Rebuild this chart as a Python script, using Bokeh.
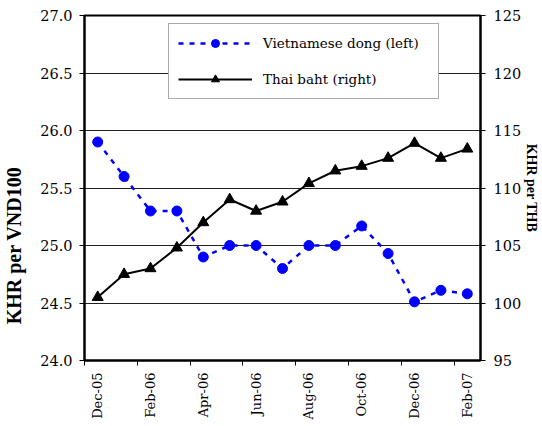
import math
from bokeh.plotting import figure
from bokeh.models import (Range1d, LinearAxis, FixedTicker, Legend,
                          LegendItem, NumeralTickFormatter)
from bokeh.embed import file_html
from bokeh.resources import INLINE

# ---- data ----
months = ["Dec-05", "Jan-06", "Feb-06", "Mar-06", "Apr-06", "May-06", "Jun-06",
          "Jul-06", "Aug-06", "Sep-06", "Oct-06", "Nov-06", "Dec-06", "Jan-07", "Feb-07"]
dong = [25.9, 25.6, 25.3, 25.3, 24.9, 25.0, 25.0, 24.8, 25.0, 25.0, 25.17, 24.93, 24.51, 24.61, 24.58]
baht = [100.5, 102.5, 103.0, 104.8, 107.0, 109.0, 108.0, 108.8, 110.4, 111.5, 111.9, 112.6, 113.9, 112.6, 113.4]
left_ticks = [24.0, 24.5, 25.0, 25.5, 26.0, 26.5, 27.0]
right_ticks = [95, 100, 105, 110, 115, 120, 125]

BOLD_FONT = "'Liberation Serif', 'Times New Roman', serif"
REG_FONT = "DejaVu Serif"

x = [i + 0.5 for i in range(len(months))]
label_pos = x[::2]
label_txt = months[::2]
boundaries = list(range(0, len(months), 2))

p = figure(width=542, height=426, output_backend="svg", toolbar_location=None,
           x_range=Range1d(0, len(months)), y_range=Range1d(left_ticks[0], left_ticks[-1]),
           min_border_left=84, min_border_right=55, min_border_top=15, min_border_bottom=66)
p.extra_y_ranges = {"thb": Range1d(right_ticks[0], right_ticks[-1])}
p.background_fill_color = "white"
p.border_fill_color = "white"
p.outline_line_color = "black"
p.outline_line_width = 2

# x axis
xa = p.xaxis[0]
xa.ticker = FixedTicker(ticks=label_pos, minor_ticks=boundaries)
xa.major_label_overrides = {lp: t for lp, t in zip(label_pos, label_txt)}
xa.major_label_orientation = math.pi / 2
xa.major_tick_out = 0
xa.major_tick_in = 0
xa.minor_tick_out = 5
xa.minor_tick_in = 0
xa.minor_tick_line_color = "black"
xa.minor_tick_line_width = 1
xa.axis_line_width = 2
xa.axis_line_color = "black"
xa.major_label_standoff = 7
xa.major_label_text_font = REG_FONT
xa.major_label_text_font_size = "13px"
xa.major_label_text_color = "black"

# left axis
ya = p.yaxis[0]
ya.ticker = FixedTicker(ticks=left_ticks)
ya.formatter = NumeralTickFormatter(format="0.0")
ya.major_tick_out = 5
ya.major_tick_in = 0
ya.minor_tick_line_color = None
ya.axis_line_width = 2
ya.axis_line_color = "black"
ya.major_label_standoff = 7
ya.major_label_text_font = REG_FONT
ya.major_label_text_font_size = "14.5px"
ya.major_label_text_color = "black"
ya.axis_label = "KHR per VND100" + "\u00a0" * 23
ya.axis_label_text_font = BOLD_FONT
ya.axis_label_text_font_size = "20px"
ya.axis_label_text_font_style = "bold"
ya.axis_label_text_color = "black"
ya.axis_label_standoff = 12

# right axis
ra = LinearAxis(y_range_name="thb", ticker=FixedTicker(ticks=right_ticks))
ra.major_tick_out = 5
ra.major_tick_in = 0
ra.minor_tick_line_color = None
ra.axis_line_width = 2
ra.axis_line_color = "black"
ra.major_label_standoff = 8
ra.major_label_text_font = REG_FONT
ra.major_label_text_font_size = "14.5px"
ra.major_label_text_color = "black"
ra.axis_label = "KHR per THB"
ra.axis_label_text_font = BOLD_FONT
ra.axis_label_text_font_size = "14px"
ra.axis_label_text_font_style = "bold"
ra.axis_label_text_color = "black"
ra.axis_label_standoff = 0
p.add_layout(ra, "right")

p.xgrid.grid_line_color = None
p.ygrid.ticker = FixedTicker(ticks=left_ticks)
p.ygrid.grid_line_color = "#222222"
p.ygrid.grid_line_width = 1

# series
dl = p.line(x, dong, line_color="#0000FF", line_width=2.5, line_dash="5 6")
ds = p.scatter(x, dong, marker="circle", size=10, fill_color="#0000FF", line_color="#0000FF")
bl = p.line(x, baht, line_color="black", line_width=2, y_range_name="thb")
bs = p.scatter(x, baht, marker="triangle", size=11, fill_color="black", line_color="black",
               y_range_name="thb")

legend = Legend(items=[LegendItem(label="Vietnamese dong (left)", renderers=[dl, ds]),
                       LegendItem(label="Thai baht (right)", renderers=[bl, bs])],
                location=(84, 261))
legend.label_text_font = REG_FONT
legend.label_text_font_size = "13.5px"
legend.label_text_color = "black"
legend.glyph_width = 74
legend.glyph_height = 20
legend.label_height = 20
legend.label_width = 166
legend.label_standoff = 11
legend.spacing = 16
legend.padding = 9
legend.margin = 0
legend.border_line_color = "#555555"
legend.border_line_width = 1
legend.background_fill_color = "white"
legend.background_fill_alpha = 1
p.add_layout(legend, "center")

open("out.html", "w").write(file_html(p, INLINE))
